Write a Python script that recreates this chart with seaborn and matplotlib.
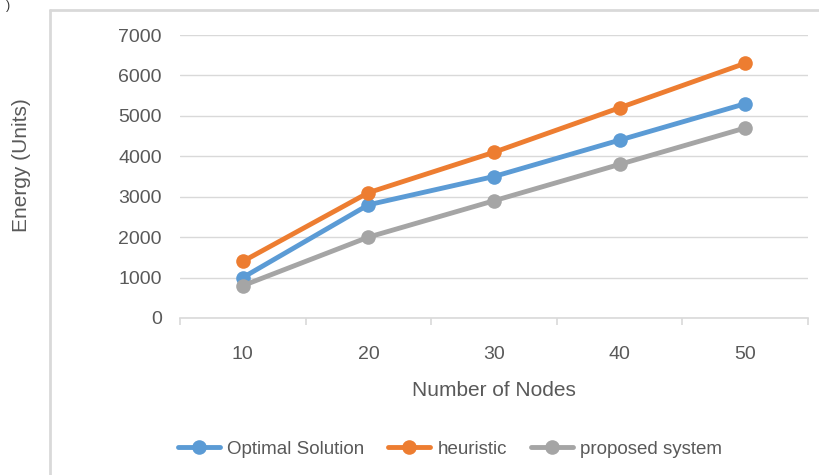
import matplotlib
matplotlib.use("Agg")
import matplotlib.pyplot as plt
import seaborn as sns
import pandas as pd
from matplotlib.lines import Line2D
from matplotlib.ticker import MultipleLocator, FixedLocator

nodes = ["10", "20", "30", "40", "50"]
optimal = [1000, 2800, 3500, 4400, 5300]
heuristic = [1400, 3100, 4100, 5200, 6300]
proposed = [800, 2000, 2900, 3800, 4700]
series_names = ["Optimal Solution", "heuristic", "proposed system"]
colors = ["#5B9BD5", "#ED7D31", "#A5A5A5"]

df = pd.DataFrame({
    "Nodes": nodes * 3,
    "Energy": optimal + heuristic + proposed,
    "Series": [s for s in series_names for _ in nodes],
})

sns.set_theme(style="white")
plt.rcParams["font.family"] = ["Liberation Sans", "DejaVu Sans"]
text_color = "#595959"

fig = plt.figure(figsize=(8.2, 4.75), dpi=100)
ax = fig.add_axes([180 / 820, 1 - 318 / 475, 628 / 820, 283 / 475])

sns.lineplot(data=df, x="Nodes", y="Energy", hue="Series", hue_order=series_names,
             palette=colors, marker="o", markersize=10.5, markeredgewidth=0,
             linewidth=3.5, ax=ax, legend=False, sort=False)

ax.set_xlim(-0.5, 4.5)
ax.set_ylim(0, 7000)
ax.yaxis.set_major_locator(MultipleLocator(1000))
ax.grid(axis="y", color="#D9D9D9", linewidth=1)
ax.grid(axis="x", visible=False)
for s in ["top", "right", "left"]:
    ax.spines[s].set_visible(False)
ax.spines["bottom"].set_color("#D9D9D9")
ax.spines["bottom"].set_linewidth(1.2)

ax.xaxis.set_minor_locator(FixedLocator([-0.5, 0.5, 1.5, 2.5, 3.5, 4.5]))
ax.tick_params(axis="x", which="major", length=0, pad=20, labelsize=14, labelcolor=text_color)
ax.tick_params(axis="x", which="minor", length=5, width=1.2, color="#D9D9D9", direction="out", bottom=True)
ax.tick_params(axis="y", length=0, pad=13, labelsize=14, labelcolor=text_color)

ax.set_xlabel("Number of Nodes", fontsize=15, color=text_color, labelpad=13)
ax.set_ylabel("")
fig.text(22 / 820, 1 - 165 / 475, "Energy (Units)", rotation=90, fontsize=15,
         color=text_color, ha="center", va="center")

handles = [Line2D([0], [0], color=c, linewidth=3.5, marker="o", markersize=10.5,
                  markeredgewidth=0) for c in colors]
fig.legend(handles, series_names, loc="center", bbox_to_anchor=(450 / 820, 1 - 449 / 475),
           ncol=3, frameon=False, fontsize=13.5, labelcolor=text_color,
           handlelength=2.24, columnspacing=1.28, handletextpad=0.37)

# outer frame (chart area border)
fx = 50 / 820
fy = 1 - 10 / 475
fig.add_artist(Line2D([fx, fx], [0, fy], transform=fig.transFigure, color="#D9D9D9", linewidth=2))
fig.add_artist(Line2D([fx, 1], [fy, fy], transform=fig.transFigure, color="#D9D9D9", linewidth=2))
fig.text(8 / 820, 1.0, ")", fontsize=9, color="#333333", ha="center", va="top")

fig.savefig("out.png", dpi=100)
